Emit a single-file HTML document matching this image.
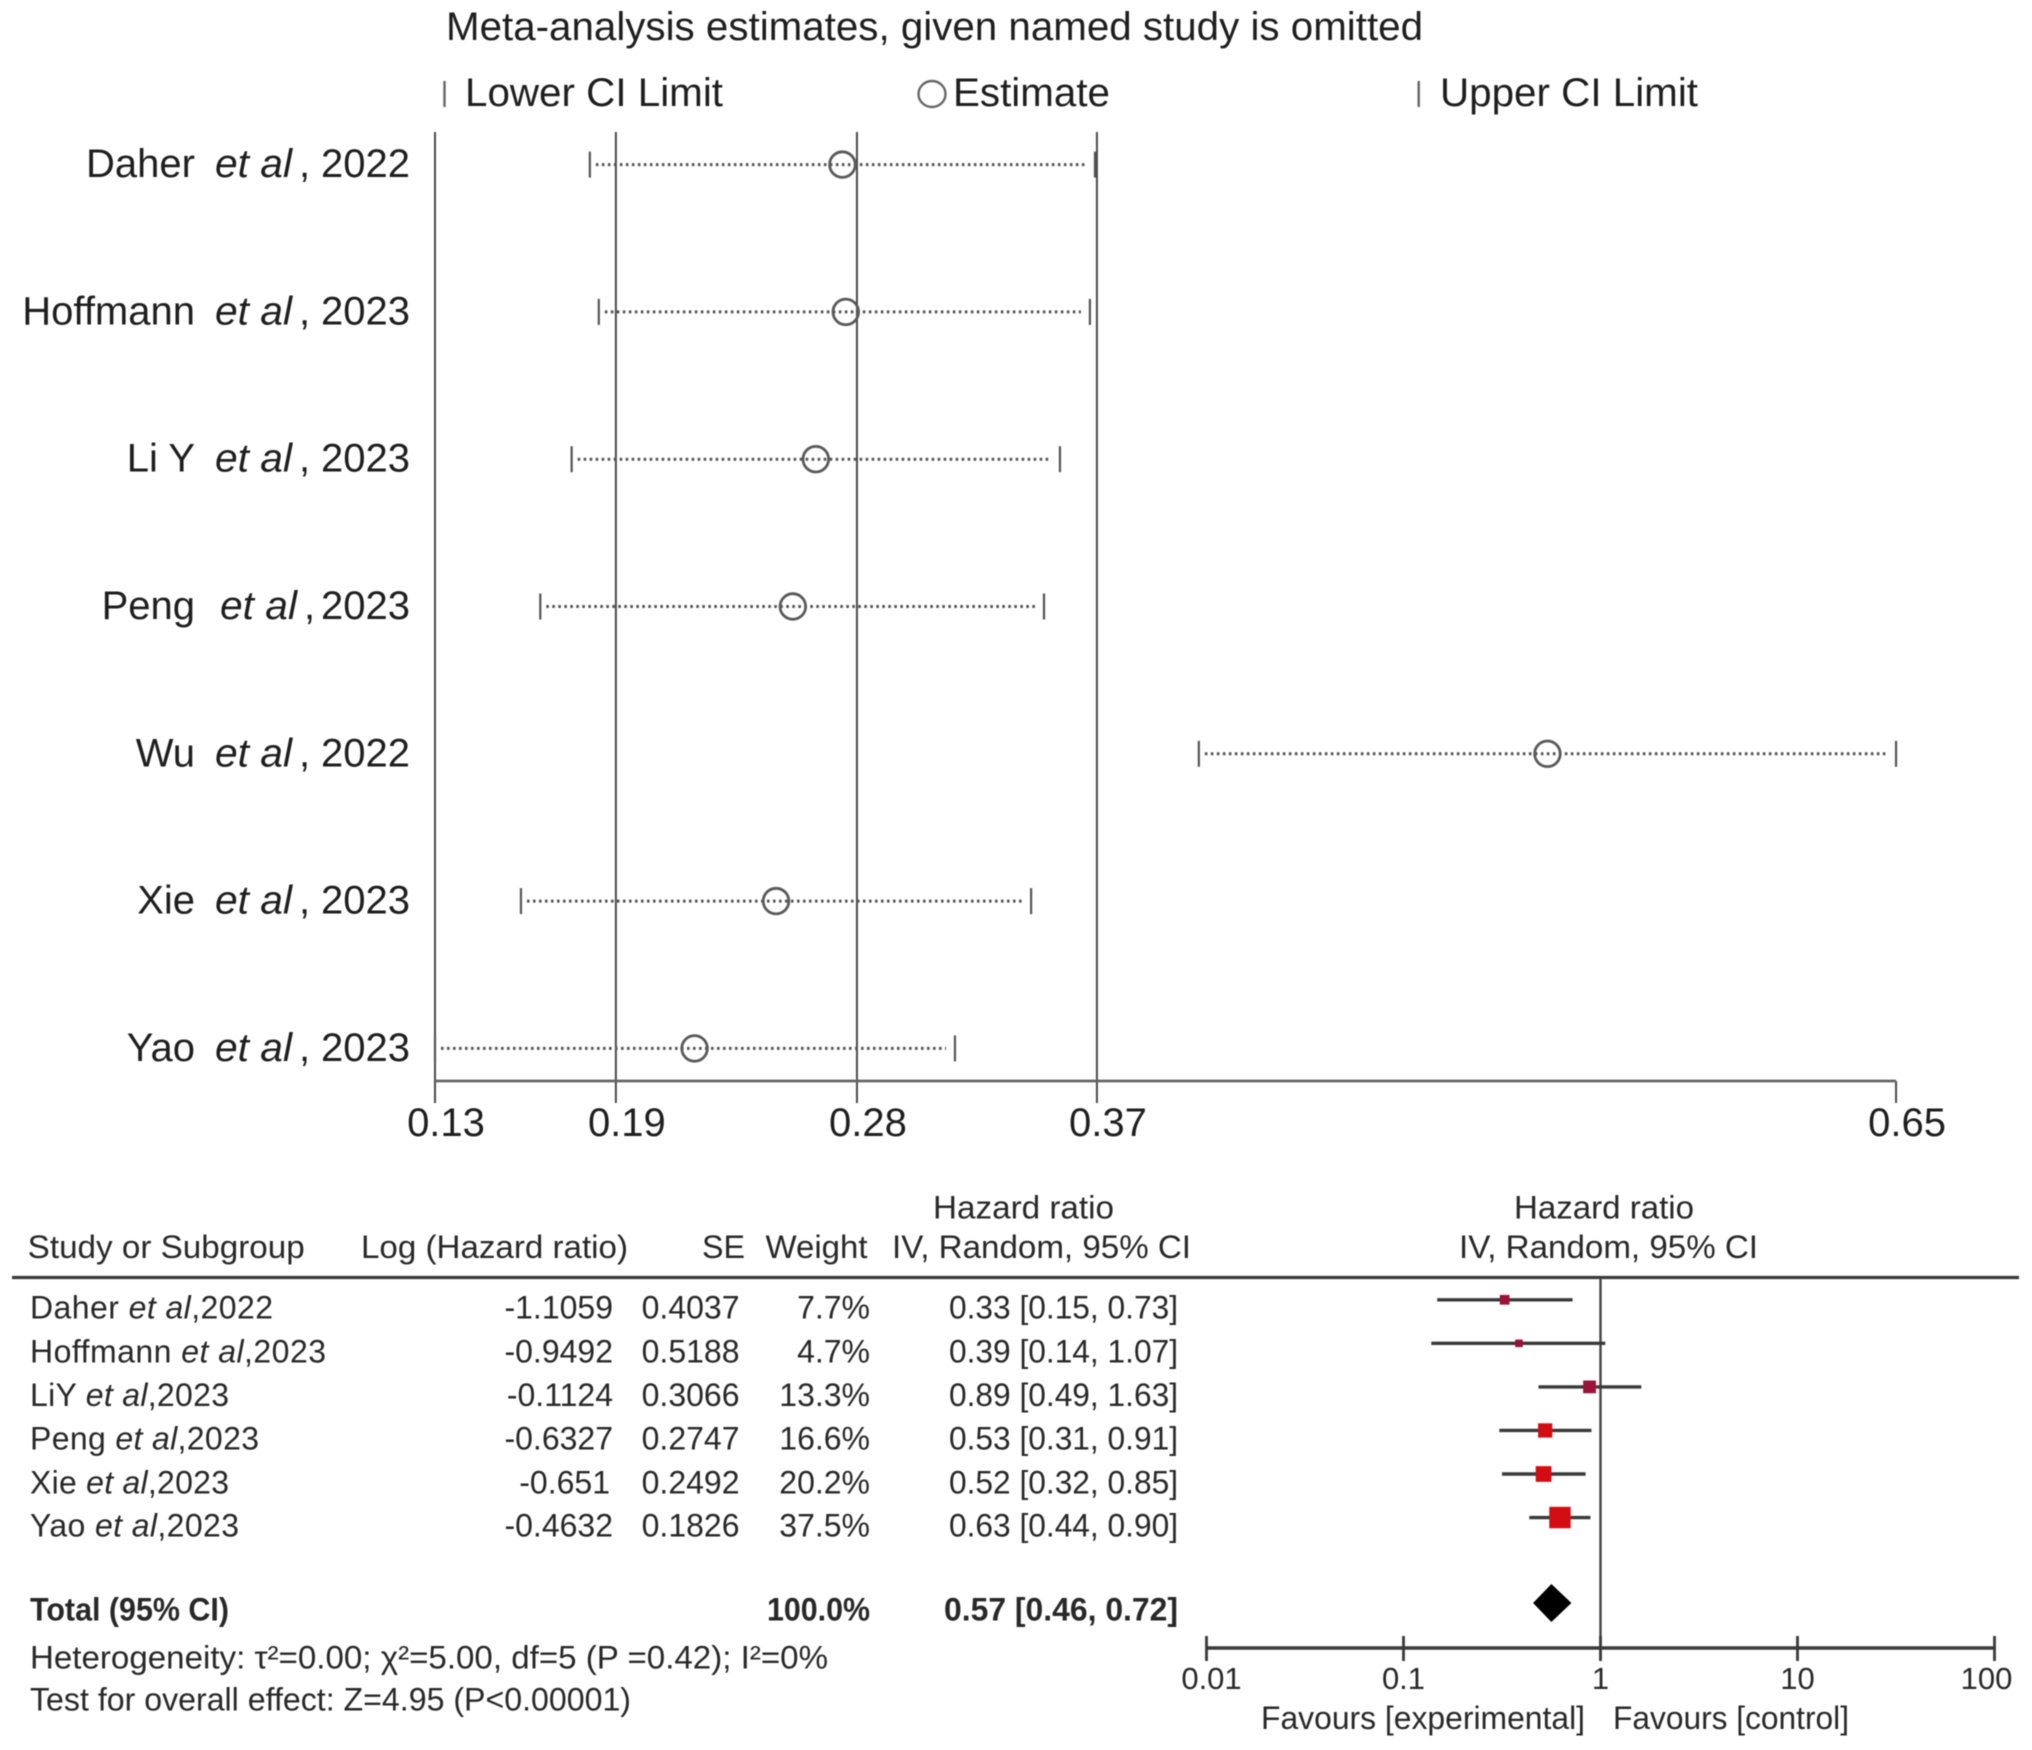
<!DOCTYPE html>
<html lang="en">
<head>
<meta charset="utf-8">
<title>Leave-one-out sensitivity analysis and forest plot</title>
<style>
html,body{margin:0;padding:0;background:#fff;width:2032px;height:1750px;overflow:hidden}
svg{display:block;filter:blur(0.6px)}
text{font-family:"Liberation Sans",sans-serif;fill:#1e1e1e}
.top{font-size:40px}
.tb{font-size:32px;fill:#282828}
.b{font-weight:bold}
.i{font-style:italic}
.e{text-anchor:end}
.m{text-anchor:middle}
</style>
</head>
<body>
<svg id="chart" xmlns="http://www.w3.org/2000/svg" width="2032" height="1750" viewBox="0 0 2032 1750">
<rect x="0" y="0" width="2032" height="1750" fill="#fff"/>

<!-- Top panel: title and legend -->
<text class="top" x="446" y="40" textLength="977" lengthAdjust="spacingAndGlyphs">Meta-analysis estimates, given named study is omitted</text>
<line x1="444.5" x2="444.5" y1="81" y2="107" stroke="#666" stroke-width="2.4"/>
<text class="top" x="465" y="106" textLength="258" lengthAdjust="spacingAndGlyphs">Lower CI Limit</text>
<ellipse cx="932" cy="94" rx="13.5" ry="13" fill="none" stroke="#666" stroke-width="2.4"/>
<text class="top" x="953" y="106" textLength="157" lengthAdjust="spacingAndGlyphs">Estimate</text>
<line x1="1418.7" x2="1418.7" y1="81" y2="107" stroke="#666" stroke-width="2.4"/>
<text class="top" x="1440" y="106" textLength="258" lengthAdjust="spacingAndGlyphs">Upper CI Limit</text>
<g id="sensitivity"></g>

<!-- Bottom panel: table header -->
<text class="tb" x="933" y="1218.6" textLength="181" lengthAdjust="spacingAndGlyphs">Hazard ratio</text>
<text class="tb" x="27.7" y="1258" textLength="277" lengthAdjust="spacingAndGlyphs">Study or Subgroup</text>
<text class="tb" x="361" y="1258" textLength="267" lengthAdjust="spacingAndGlyphs">Log (Hazard ratio)</text>
<text class="tb" x="702" y="1258" textLength="43" lengthAdjust="spacingAndGlyphs">SE</text>
<text class="tb" x="765.5" y="1258" textLength="102" lengthAdjust="spacingAndGlyphs">Weight</text>
<text class="tb" x="892" y="1258" textLength="299" lengthAdjust="spacingAndGlyphs">IV, Random, 95% CI</text>
<text class="tb" x="1514" y="1218.6" textLength="180" lengthAdjust="spacingAndGlyphs">Hazard ratio</text>
<text class="tb" x="1459" y="1258" textLength="299" lengthAdjust="spacingAndGlyphs">IV, Random, 95% CI</text>
<line x1="12" x2="2019" y1="1277.5" y2="1277.5" stroke="#3a3a3a" stroke-width="3.2"/>

<!-- Bottom panel: table rows -->
<g>
<text class="tb" x="30" y="1318.6" textLength="243">Daher <tspan class="i">et al</tspan>,2022</text>
<text class="tb e" x="613" y="1318.6">-1.1059</text>
<text class="tb e" x="739.5" y="1318.6">0.4037</text>
<text class="tb e" x="870" y="1318.6">7.7%</text>
<text class="tb e" x="1178" y="1318.6" textLength="229" lengthAdjust="spacingAndGlyphs">0.33 [0.15, 0.73]</text>

<text class="tb" x="30" y="1362.5" textLength="296">Hoffmann <tspan class="i">et al</tspan>,2023</text>
<text class="tb e" x="613" y="1362.5">-0.9492</text>
<text class="tb e" x="739.5" y="1362.5">0.5188</text>
<text class="tb e" x="870" y="1362.5">4.7%</text>
<text class="tb e" x="1178" y="1362.5" textLength="229" lengthAdjust="spacingAndGlyphs">0.39 [0.14, 1.07]</text>

<text class="tb" x="30" y="1406" textLength="199">LiY <tspan class="i">et al</tspan>,2023</text>
<text class="tb e" x="613" y="1406">-0.1124</text>
<text class="tb e" x="739.5" y="1406">0.3066</text>
<text class="tb e" x="870" y="1406">13.3%</text>
<text class="tb e" x="1178" y="1406" textLength="229" lengthAdjust="spacingAndGlyphs">0.89 [0.49, 1.63]</text>

<text class="tb" x="30" y="1449.6" textLength="229">Peng <tspan class="i">et al</tspan>,2023</text>
<text class="tb e" x="613" y="1449.6">-0.6327</text>
<text class="tb e" x="739.5" y="1449.6">0.2747</text>
<text class="tb e" x="870" y="1449.6">16.6%</text>
<text class="tb e" x="1178" y="1449.6" textLength="229" lengthAdjust="spacingAndGlyphs">0.53 [0.31, 0.91]</text>

<text class="tb" x="30" y="1493.6" textLength="199">Xie <tspan class="i">et al</tspan>,2023</text>
<text class="tb e" x="610" y="1493.6">-0.651</text>
<text class="tb e" x="739.5" y="1493.6">0.2492</text>
<text class="tb e" x="870" y="1493.6">20.2%</text>
<text class="tb e" x="1178" y="1493.6" textLength="229" lengthAdjust="spacingAndGlyphs">0.52 [0.32, 0.85]</text>

<text class="tb" x="30" y="1536.4" textLength="209">Yao <tspan class="i">et al</tspan>,2023</text>
<text class="tb e" x="613" y="1536.4">-0.4632</text>
<text class="tb e" x="739.5" y="1536.4">0.1826</text>
<text class="tb e" x="870" y="1536.4">37.5%</text>
<text class="tb e" x="1178" y="1536.4" textLength="229" lengthAdjust="spacingAndGlyphs">0.63 [0.44, 0.90]</text>

<text class="tb b" x="30" y="1620.4" textLength="199" lengthAdjust="spacingAndGlyphs">Total (95% CI)</text>
<text class="tb b e" x="870" y="1620.4" textLength="103" lengthAdjust="spacingAndGlyphs">100.0%</text>
<text class="tb b e" x="1178" y="1620.4" textLength="234" lengthAdjust="spacingAndGlyphs">0.57 [0.46, 0.72]</text>
<text class="tb" x="30" y="1668.6" textLength="798" lengthAdjust="spacingAndGlyphs">Heterogeneity: τ²=0.00; χ²=5.00, df=5 (P =0.42); I²=0%</text>
<text class="tb" x="30" y="1710.7" textLength="601" lengthAdjust="spacingAndGlyphs">Test for overall effect: Z=4.95 (P&lt;0.00001)</text>
</g>

<g id="forest"></g>
<text class="tb" x="1261" y="1729" textLength="324" lengthAdjust="spacingAndGlyphs">Favours [experimental]</text>
<text class="tb" x="1613" y="1729" textLength="236" lengthAdjust="spacingAndGlyphs">Favours [control]</text>
</svg>

<script>
// Sensitivity plot data
var studyNames = ['Daher', 'Hoffmann', 'Li Y', 'Peng', 'Wu', 'Xie', 'Yao'];
var studyYears = ['2022', '2023', '2023', '2023', '2022', '2023', '2023'];
var lowerLimits = [0.1848, 0.1880, 0.1783, 0.1671, 0.4023, 0.1602, 0.1295];
var estimates = [0.2750, 0.2762, 0.2655, 0.2573, 0.5268, 0.2513, 0.2222];
var upperLimits = [0.3652, 0.3634, 0.3527, 0.3470, 0.6513, 0.3424, 0.3152];
var sensitivityTicks = [0.1295, 0.1941, 0.2802, 0.3659, 0.6513];
var sensitivityTickLabels = ['0.13', '0.19', '0.28', '0.37', '0.65'];

// Forest plot data
var forestStudies = ['daher', 'hoffmann', 'li-y', 'peng', 'xie', 'yao'];
var forestHazardRatios = [0.33, 0.39, 0.89, 0.53, 0.52, 0.63];
var forestLower = [0.15, 0.14, 0.49, 0.31, 0.32, 0.44];
var forestUpper = [0.73, 1.07, 1.63, 0.91, 0.85, 0.90];
var forestWeights = [7.7, 4.7, 13.3, 16.6, 20.2, 37.5];
var pooledEstimate = [0.57, 0.46, 0.72];
var forestTicks = [0.01, 0.1, 1, 10, 100];
var forestTickLabels = ['0.01', '0.1', '1', '10', '100'];

var NS = 'http://www.w3.org/2000/svg';
function make(parent, tag, props, txt) {
  var el = document.createElementNS(NS, tag);
  for (var k in props) { el.setAttribute(k, props[k]); }
  if (txt !== undefined) { el.textContent = txt; }
  parent.appendChild(el);
  return el;
}
function sx(v) { return 435 + (v - 0.1295) * 2800; }
function sy(i) { return 164.6 + i * 147.3; }
function fx(v) { return 1599.5 + 197 * Math.log10(v); }
function fy(i) { return 1299.8 + i * 43.55; }

var sensGroup = document.getElementById('sensitivity');
var axisY = 1081;
var el;

sensitivityTicks.forEach(function (t, i) {
  var isRef = i < sensitivityTicks.length - 1;
  el = make(sensGroup, 'line', {x1: sx(t), x2: sx(t), y1: isRef ? 132 : axisY, y2: 1103, stroke: '#4a4a4a', 'stroke-width': 2});
  
  
  el = make(sensGroup, 'text', {x: sx(t) + 11, y: 1136, 'class': 'top m'}, sensitivityTickLabels[i]);
  
  
});

el = make(sensGroup, 'line', {x1: sx(sensitivityTicks[0]), x2: sx(sensitivityTicks[sensitivityTicks.length - 1]), y1: axisY, y2: axisY, stroke: '#666', 'stroke-width': 2.8});



studyNames.forEach(function (name, i) {
  var y = sy(i);
  var baseline = y + 12.5;
  var shift = name === 'Peng' ? 5 : 0;
  el = make(sensGroup, 'text', {x: 195, y: baseline, 'class': 'top e'}, name);
  
  
  el = make(sensGroup, 'text', {x: 215 + shift, y: baseline, 'class': 'top i', textLength: 77, lengthAdjust: 'spacingAndGlyphs'}, 'et al');
  
  
  el = make(sensGroup, 'text', {x: 299 + shift, y: baseline, 'class': 'top'}, ',');
  
  
  el = make(sensGroup, 'text', {x: 410, y: baseline, 'class': 'top e'}, studyYears[i]);
  
  

  el = make(sensGroup, 'line', {x1: sx(lowerLimits[i]) + 6, x2: sx(upperLimits[i]) - 9, y1: y, y2: y, stroke: '#555', 'stroke-width': 3, 'stroke-dasharray': '2.6 3.4'});
  
  
  el = make(sensGroup, 'line', {x1: sx(lowerLimits[i]), x2: sx(lowerLimits[i]), y1: y - 13, y2: y + 13, stroke: '#555', 'stroke-width': 2.2});
  
  
  el = make(sensGroup, 'line', {x1: sx(upperLimits[i]), x2: sx(upperLimits[i]), y1: y - 13, y2: y + 13, stroke: '#555', 'stroke-width': 2.2});
  
  
  el = make(sensGroup, 'circle', {cx: sx(estimates[i]), cy: y, r: 12.8, fill: 'none', stroke: '#5a5a5a', 'stroke-width': 2.8});
  
  
});

var forestGroup = document.getElementById('forest');

el = make(forestGroup, 'line', {x1: fx(1) + 1, x2: fx(1) + 1, y1: 1277.5, y2: 1660, stroke: '#444', 'stroke-width': 2.4});


el = make(forestGroup, 'line', {x1: fx(forestTicks[0]) + 1, x2: fx(forestTicks[forestTicks.length - 1]) + 1, y1: 1648, y2: 1648, stroke: '#3a3a3a', 'stroke-width': 3.4});



forestTicks.forEach(function (t, i) {
  var shift = i === 0 ? 5 : (i === forestTicks.length - 1 ? -8 : 0);
  el = make(forestGroup, 'line', {x1: fx(t) + 1, x2: fx(t) + 1, y1: 1636, y2: 1661, stroke: '#3a3a3a', 'stroke-width': 2.8});
  
  
  el = make(forestGroup, 'text', {x: fx(t) + 1 + shift, y: 1689, 'class': 'tb m', style: 'font-size:31px'}, forestTickLabels[i]);
  
  
});

forestStudies.forEach(function (name, i) {
  var y = fy(i);
  var size = 3.5 * Math.sqrt(forestWeights[i]);
  el = make(forestGroup, 'line', {x1: fx(forestLower[i]), x2: fx(forestUpper[i]), y1: y, y2: y, stroke: '#3a3a3a', 'stroke-width': 3.4});
  
  
  el = make(forestGroup, 'rect', {x: fx(forestHazardRatios[i]) - size / 2, y: y - size / 2, width: size, height: size, fill: forestWeights[i] < 15 ? '#9c1238' : '#d40d12'});
  
  
});

var dy = 1603;
el = make(forestGroup, 'polygon', {
  points: fx(pooledEstimate[1]) + ',' + dy + ' ' + fx(pooledEstimate[0]) + ',' + (dy - 19) + ' ' + fx(pooledEstimate[2]) + ',' + dy + ' ' + fx(pooledEstimate[0]) + ',' + (dy + 19),
  fill: '#000'
});


</script>
</body>
</html>
